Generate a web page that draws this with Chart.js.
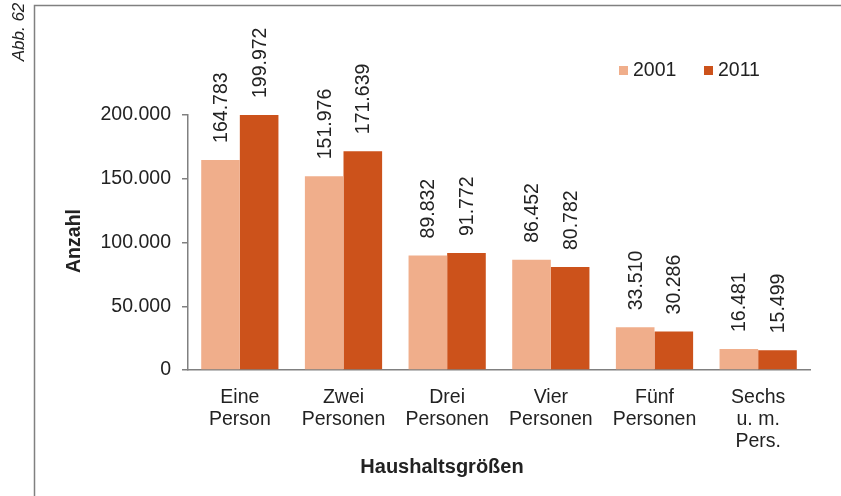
<!DOCTYPE html>
<html>
<head>
<meta charset="utf-8">
<script src="https://cdn.jsdelivr.net/npm/chart.js@4/dist/chart.umd.min.js"></script>
<style>
  html, body { margin: 0; padding: 0; background: #fff; }
  #wrap { position: relative; width: 841px; height: 496px; }
</style>
</head>
<body>
<div id="wrap"><canvas id="chart"></canvas></div>
<script>
// Data
const categories = [
    ['Eine', 'Person'],
    ['Zwei', 'Personen'],
    ['Drei', 'Personen'],
    ['Vier', 'Personen'],
    ['Fünf', 'Personen'],
    ['Sechs', 'u. m.', 'Pers.']
];
const seriesNames = ['2001', '2011'];
const values2001 = [164783, 151976, 89832, 86452, 33510, 16481];
const values2011 = [199972, 171639, 91772, 80782, 30286, 15499];
const yTicks = [0, 50000, 100000, 150000, 200000];

const colors = ['#F0AE8B', '#CC521B'];
const FONT = '"Liberation Sans", Arial, sans-serif';
const textColor = '#222222';

// German thousands separator
function fmt(v) {
    return String(v).replace(/\B(?=(\d{3})+(?!\d))/g, '.');
}

// Value labels, rotated, above each bar
const valueLabels = {
    id: 'valueLabels',
    afterDatasetsDraw(chart) {
        const ctx = chart.ctx;
        chart.data.datasets.forEach((ds, i) => {
            const meta = chart.getDatasetMeta(i);
            meta.data.forEach((bar, j) => {
                ctx.save();
                ctx.translate(bar.x, bar.y - 17);
                ctx.rotate(-Math.PI / 2);
                ctx.font = '19.5px ' + FONT;
                ctx.fillStyle = textColor;
                ctx.textAlign = 'left';
                ctx.textBaseline = 'middle';
                ctx.fillText(fmt(ds.data[j]), 0, 1);
                ctx.restore();
            });
        });
    }
};

// Frame, figure number, axis titles and legend
const decorations = {
    id: 'decorations',
    beforeDraw(chart) {
        const ctx = chart.ctx;
        ctx.save();
        ctx.fillStyle = '#fff';
        ctx.fillRect(0, 0, chart.width, chart.height);
        ctx.strokeStyle = '#808080';
        ctx.lineWidth = 1.5;
        ctx.beginPath();
        ctx.moveTo(34.5, 496);
        ctx.lineTo(34.5, 5.5);
        ctx.lineTo(841, 5.5);
        ctx.stroke();
        ctx.restore();
    },
    afterDraw(chart) {
        const ctx = chart.ctx;
        ctx.save();
        ctx.fillStyle = textColor;
        // Abb. 62
        ctx.save();
        ctx.translate(19, 32);
        ctx.rotate(-Math.PI / 2);
        ctx.font = 'italic 17px ' + FONT;
        ctx.textAlign = 'center';
        ctx.textBaseline = 'middle';
        ctx.fillText('Abb. 62', 0, 0);
        ctx.restore();
        // Y title
        ctx.save();
        ctx.translate(75, 241);
        ctx.rotate(-Math.PI / 2);
        ctx.font = 'bold 19.5px ' + FONT;
        ctx.textAlign = 'center';
        ctx.textBaseline = 'middle';
        ctx.fillText('Anzahl', 0, 0);
        ctx.restore();
        // X title
        ctx.font = 'bold 20px ' + FONT;
        ctx.textAlign = 'center';
        ctx.textBaseline = 'middle';
        ctx.fillText('Haushaltsgrößen', 442, 467);
        // Legend
        const legendX = [619, 704];
        ctx.font = '19.5px ' + FONT;
        ctx.textAlign = 'left';
        chart.data.datasets.forEach((ds, i) => {
            ctx.fillStyle = ds.backgroundColor;
            ctx.fillRect(legendX[i], 66, 9, 9);
            ctx.fillStyle = textColor;
            ctx.fillText(ds.label, legendX[i] + 14, 71);
        });
        ctx.restore();
    }
};

new Chart(document.getElementById('chart'), {
    type: 'bar',
    data: {
        labels: categories,
        datasets: [
            { label: seriesNames[0], data: values2001, backgroundColor: colors[0] },
            { label: seriesNames[1], data: values2011, backgroundColor: colors[1] }
        ]
    },
    options: {
        responsive: true,
        maintainAspectRatio: false,
        animation: false,
        layout: { padding: { top: 115, right: 31, left: 0, bottom: 0 } },
        datasets: { bar: { categoryPercentage: 0.745, barPercentage: 1.0 } },
        plugins: {
            legend: { display: false },
            tooltip: { enabled: false }
        },
        scales: {
            x: {
                grid: { display: false },
                border: { display: true, color: '#808080', width: 1.5 },
                ticks: {
                    color: textColor,
                    font: { family: FONT, size: 19.5, lineHeight: 1.13 },
                    padding: 9,
                    maxRotation: 0,
                    autoSkip: false
                },
                afterFit(scale) { scale.height = 126; }
            },
            y: {
                min: 0,
                max: 200000,
                afterBuildTicks(scale) { scale.ticks = yTicks.map(v => ({ value: v })); },
                grid: { drawOnChartArea: false, tickLength: 6, color: '#808080', lineWidth: 1.5 },
                border: { display: true, color: '#808080', width: 1.5 },
                ticks: {
                    color: textColor,
                    font: { family: FONT, size: 19.5 },
                    padding: 11,
                    callback: v => fmt(v)
                },
                afterFit(scale) { scale.width = 188; }
            }
        }
    },
    plugins: [valueLabels, decorations]
});
</script>
</body>
</html>
